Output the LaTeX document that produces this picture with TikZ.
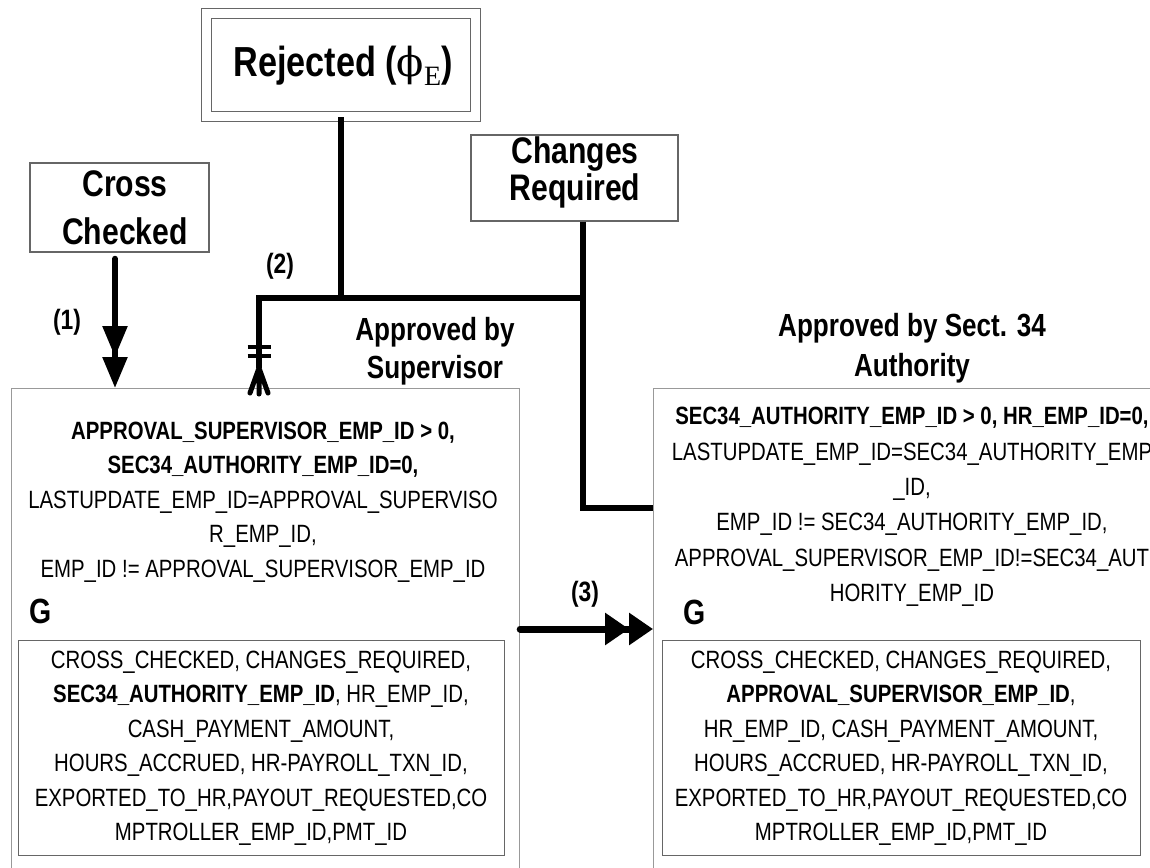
\documentclass[tikz,border=0pt]{standalone}
\usepackage{fontspec}
\setmainfont[FakeStretch=0.815]{Liberation Sans}
\newfontfamily\subfont{Liberation Serif}
\newfontfamily\phifont{DejaVu Serif}
\usepackage{tikz}
\usetikzlibrary{arrows.meta}

\begin{document}
\begin{tikzpicture}[x=1pt, y=-1pt,
		every node/.style={inner sep=0pt, align=center},
		statebox/.style={draw=black!60, line width=1.1pt},
		bigbox/.style={draw=black!40, line width=1.2pt},
		headtxt/.style={font=\fontsize{37}{48}\selectfont\bfseries},
		titletxt/.style={font=\fontsize{32}{38}\selectfont\bfseries},
		bodytxt/.style={font=\fontsize{25}{34.5}\selectfont},
		numtxt/.style={font=\fontsize{28}{28}\selectfont\bfseries},
		gtxt/.style={font=\fontsize{35}{35}\selectfont\bfseries},
		connline/.style={line width=5.5pt}]
		\useasboundingbox (0,0) rectangle (1150,867);

		% --- top: source states ---
		\node[statebox, double, double distance=9.5pt, minimum width=269, minimum height=103]
			(rej) at (341,65) {};
		\node[font=\fontsize{42}{50}\selectfont\bfseries] (rejtxt) at (343,66)
			{Rejected ({\phifont\mdseries\fontsize{40}{40}\selectfont ϕ}\raisebox{-0.22em}{\subfont\mdseries\fontsize{28}{28}\selectfont E})};
		\node[statebox, minimum width=179, minimum height=89] (cross) at (119.5,207.5) {};
		\node[headtxt] (crosstxt) at (125,208) {Cross\\Checked};
		\node[statebox, minimum width=207, minimum height=86] (chg) at (574.5,178) {};
		\node[headtxt, font=\fontsize{37}{37}\selectfont\bfseries] (chgtxt) at (575,172) {Changes\\Required};

		% --- LEFT: approved by supervisor ---
		\node[bigbox, minimum width=508, minimum height=520, anchor=north west] (sup) at (11,388) {};
		\node[titletxt] (suptitle) at (435,351) {Approved by\\Supervisor};
		\node[bodytxt] (supcond) at (263,502)
			{\textbf{APPROVAL\_SUPERVISOR\_EMP\_ID > 0,}\\
			 \textbf{SEC34\_AUTHORITY\_EMP\_ID=0,}\\
			 LASTUPDATE\_EMP\_ID=APPROVAL\_SUPERVISO\\
			 R\_EMP\_ID,\\
			 EMP\_ID != APPROVAL\_SUPERVISOR\_EMP\_ID};
		\node[gtxt] (supg) at (41,611) {G};
		\node[statebox, minimum width=486, minimum height=215, anchor=north west] (supgrp) at (18,640) {};
		\node[bodytxt] (supfld) at (261,748)
			{CROSS\_CHECKED, CHANGES\_REQUIRED,\\
			 \textbf{SEC34\_AUTHORITY\_EMP\_ID}, HR\_EMP\_ID,\\
			 CASH\_PAYMENT\_AMOUNT,\\
			 HOURS\_ACCRUED, HR-PAYROLL\_TXN\_ID,\\
			 EXPORTED\_TO\_HR,PAYOUT\_REQUESTED,CO\\
			 MPTROLLER\_EMP\_ID,PMT\_ID};

		% --- RIGHT: approved by sect. 34 authority ---
		\node[bigbox, minimum width=520, minimum height=520, anchor=north west] (sect) at (653,388) {};
		\node[titletxt, font=\fontsize{32}{40}\selectfont\bfseries] (secttitle) at (912,348) {Approved by Sect. 34\\Authority};
		\node[bodytxt, font=\fontsize{25}{35.4}\selectfont] (sectcond) at (912,507)
			{\textbf{SEC34\_AUTHORITY\_EMP\_ID > 0, HR\_EMP\_ID=0,}\\
			 LASTUPDATE\_EMP\_ID=SEC34\_AUTHORITY\_EMP\\
			 \_ID,\\
			 EMP\_ID != SEC34\_AUTHORITY\_EMP\_ID,\\
			 APPROVAL\_SUPERVISOR\_EMP\_ID!=SEC34\_AUT\\
			 HORITY\_EMP\_ID};
		\node[gtxt] (sectg) at (695,612) {G};
		\node[statebox, minimum width=478, minimum height=215, anchor=north west] (sectgrp) at (662,640) {};
		\node[bodytxt] (sectfld) at (901,748)
			{CROSS\_CHECKED, CHANGES\_REQUIRED,\\
			 \textbf{APPROVAL\_SUPERVISOR\_EMP\_ID},\\
			 HR\_EMP\_ID, CASH\_PAYMENT\_AMOUNT,\\
			 HOURS\_ACCRUED, HR-PAYROLL\_TXN\_ID,\\
			 EXPORTED\_TO\_HR,PAYOUT\_REQUESTED,CO\\
			 MPTROLLER\_EMP\_ID,PMT\_ID};

		% --- transitions ---
		\coordinate (busL) at (259,298);
		\coordinate (busR) at (583,298);
		\coordinate (foot) at (259,368);
		\coordinate (sectin) at (653,508);
		\coordinate (mid3) at (0,629);

		% (1)
		\draw[connline, line cap=round, -{Triangle[length=31pt,width=24pt,sep=0pt] Triangle[length=31pt,width=24pt,sep=0pt]}]
			([xshift=-4.5pt,yshift=-6pt]cross.south) -- ([xshift=-4.5pt]cross.south |- sup.north);
		\node[numtxt] (n1) at (67,322) {(1)};

		% (2)
		\draw[connline] (rej.south) -- (rej.south |- busL);
		\draw[connline] (busR) -- (busL) -- (foot);
		\draw[connline] (chg.south -| busR) -- (busR |- sectin) -- (sectin);
		\draw[line width=3.5pt] (foot) ++(-11.5,-21) -- ++(23,0);
		\draw[line width=3.5pt] (foot) ++(-11.5,-12) -- ++(23,0);
		\draw[line width=5pt, line cap=round] (foot) -- ++(-9,25) (foot) -- ++(0,26) (foot) -- ++(9,25);
		\node[numtxt] (n2) at (280,266) {(2)};

		% (3)
		\draw[line width=7pt, line cap=round, -{Triangle[length=24pt,width=31pt,sep=0pt] Triangle[length=24pt,width=31pt,sep=0pt]}]
			(sup.east |- mid3) -- (sect.west |- mid3);
		\node[numtxt] (n3) at (585,594) {(3)};
	\end{tikzpicture}
\end{document}
